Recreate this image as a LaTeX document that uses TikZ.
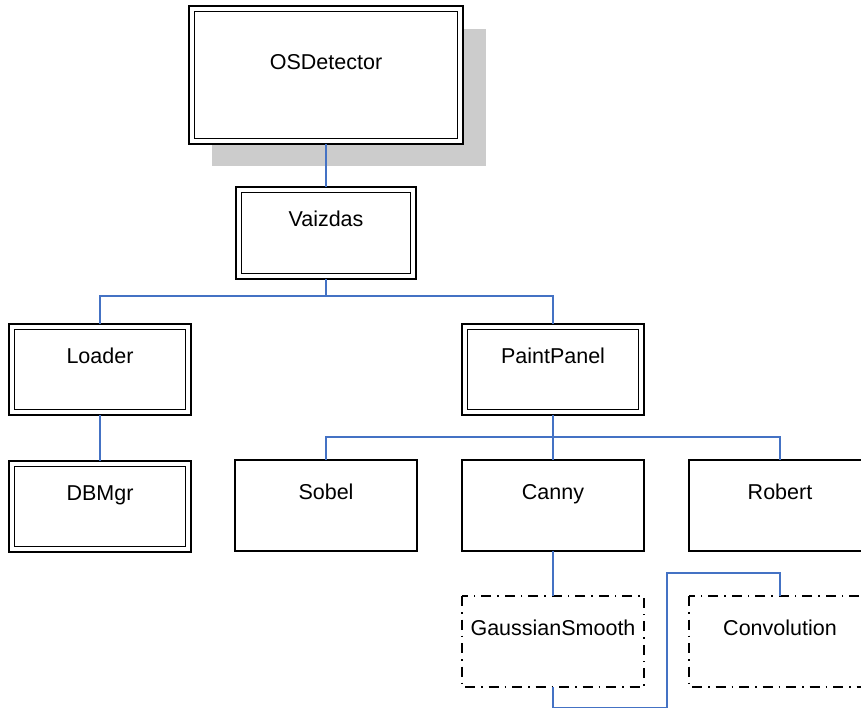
\documentclass[tikz,border=0pt]{standalone}
\usepackage{fontspec}
\setmainfont{Liberation Sans}
\begin{document}
\begin{tikzpicture}[x=1pt,y=-1pt,
  every node/.style={font=\fontsize{21.5}{25}\selectfont, text=black},
  single/.style={draw=black, line width=1.6pt, fill=white},
  dashbox/.style={draw=black, line width=1.6pt, fill=white,
    dash pattern=on 10pt off 6pt on 1.5pt off 6pt},
  link/.style={draw={rgb,255:red,68;green,114;blue,196}, line width=1.6pt},
  lbl/.style={anchor=base, inner sep=0pt}]
\useasboundingbox (0,0) rectangle (861,709);
% shadow behind the top box
\fill[black!20] (212,29) rectangle (486,166);

% boxes drawn as rectangles with named top/bottom midpoints
\newcommand{\dblbox}[5]{%
  \draw[draw=black, line width=1.7pt, fill=white] (#2,#3) rectangle (#4,#5);
  \draw[draw=black, line width=1.7pt] (#2+5.5,#3+5.5) rectangle (#4-5.5,#5-5.5);
  \coordinate (#1-n) at ({(#2+#4)/2},#3);
  \coordinate (#1-s) at ({(#2+#4)/2},#5);}
\newcommand{\sglbox}[6]{%
  \draw[#6] (#2,#3) rectangle (#4,#5);
  \coordinate (#1-n) at ({(#2+#4)/2},#3);
  \coordinate (#1-s) at ({(#2+#4)/2},#5);}

\dblbox{os}{189}{6}{463}{144}
\node[lbl] (tos) at (326,69.5) {OSDetector};
\dblbox{vz}{236}{187}{416}{279}
\node[lbl] (tvz) at (326,226.5) {Vaizdas};
\dblbox{ld}{9}{324}{191}{415}
\node[lbl] (tld) at (100,363.5) {Loader};
\dblbox{db}{9}{461}{191}{552}
\node[lbl] (tdb) at (100,500.5) {DBMgr};
\dblbox{pp}{462}{324}{644}{415}
\node[lbl] (tpp) at (553,363.5) {PaintPanel};

\sglbox{sb}{235}{460}{417}{551}{single}
\node[lbl] (tsb) at (326,499.5) {Sobel};
\sglbox{cn}{462}{460}{644}{551}{single}
\node[lbl] (tcn) at (553,499.5) {Canny};
\sglbox{rb}{689}{460}{871}{551}{single}
\node[lbl] (trb) at (780,499.5) {Robert};
\sglbox{gs}{462}{596}{644}{687}{dashbox}
\node[lbl] (tgs) at (553,635) {GaussianSmooth};
\sglbox{cv}{689}{596}{871}{687}{dashbox}
\node[lbl] (tcv) at (780,635) {Convolution};

% connectors
\draw[link] (os-s) -- (vz-n);
\draw[link] (vz-s) -- ++(0,17) coordinate (j1) -| (ld-n);
\draw[link] (j1) -| (pp-n);
\draw[link] (ld-s) -- (db-n);
\draw[link] (pp-s) -- ++(0,22) coordinate (j2) -| (sb-n);
\draw[link] (j2) -| (rb-n);
\draw[link] (j2) -- (cn-n);
\draw[link] (cn-s) -- (gs-n);
\draw[link] (gs-s) -- ++(0,20.5) -| (667,573) -| (cv-n);
\end{tikzpicture}
\end{document}
